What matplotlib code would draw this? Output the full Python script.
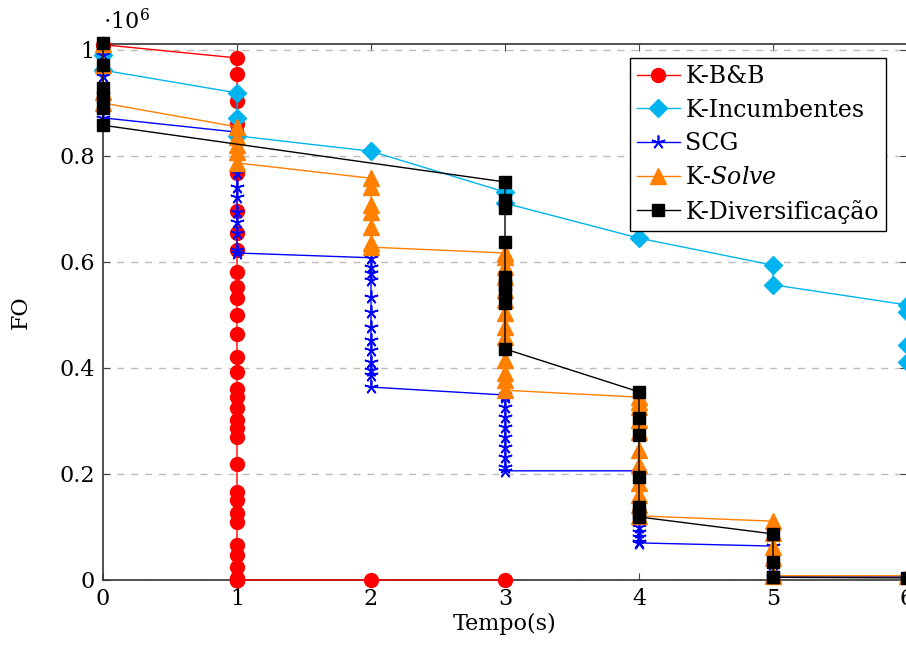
import matplotlib.pyplot as plt

plt.rcParams['font.family'] = ['DejaVu Serif']
plt.rcParams['mathtext.fontset'] = 'dejavuserif'

# values in units of 10^6
bb_t = [0, 1] + [1] * 36 + [2, 3]
bb_y = [1.010, 0.985, 0.955, 0.904, 0.86, 0.768, 0.696, 0.655, 0.623, 0.581, 0.553,
        0.532, 0.500, 0.464, 0.421, 0.392, 0.360, 0.345, 0.325, 0.302, 0.287, 0.270,
        0.219, 0.166, 0.151, 0.126, 0.109, 0.066, 0.047, 0.025, 0.004, 0.0, 0.0,
        0.0, 0.0, 0.0, 0.0, 0.0, 0.0, 0.0]

inc_t = [0, 0, 1, 1, 1, 2, 3, 3, 4, 5, 5, 6, 6, 6, 6]
inc_y = [0.990, 0.962, 0.919, 0.872, 0.838, 0.809, 0.732, 0.711, 0.645, 0.594,
         0.557, 0.519, 0.506, 0.443, 0.411]

scg_t = ([0, 0, 0, 1] + [1] * 8 + [2] * 13 + [3] * 10 + [4] * 6 + [5, 5, 5, 6])
scg_y = ([0.990, 0.950, 0.872, 0.845,
          0.768, 0.742, 0.723, 0.695, 0.675, 0.655, 0.623, 0.617,
          0.608, 0.591, 0.579, 0.566, 0.534, 0.506, 0.477, 0.453, 0.434, 0.411,
          0.396, 0.387, 0.364,
          0.349, 0.345, 0.326, 0.308, 0.289, 0.270, 0.251, 0.232, 0.213, 0.206,
          0.206, 0.100, 0.091, 0.081, 0.072, 0.070,
          0.064, 0.030, 0.006, 0.006])

solve_t = ([0, 0, 0, 0] + [1] * 5 + [2] * 7 + [3] * 13 + [4] * 11 + [5] * 6 + [6])
solve_y = ([1.012, 0.972, 0.921, 0.900,
            0.855, 0.836, 0.821, 0.808, 0.787,
            0.758, 0.742, 0.708, 0.694, 0.666, 0.636, 0.628,
            0.617, 0.609, 0.591, 0.572, 0.547, 0.528, 0.504, 0.477, 0.458, 0.415,
            0.391, 0.377, 0.358,
            0.345, 0.336, 0.326, 0.302, 0.279, 0.245, 0.217, 0.183, 0.160, 0.142,
            0.121,
            0.111, 0.089, 0.062, 0.042, 0.009, 0.008,
            0.008])

div_t = ([0] * 6 + [3] * 9 + [4] * 7 + [5] * 4 + [6])
div_y = ([1.013, 0.972, 0.929, 0.912, 0.891, 0.858,
          0.751, 0.717, 0.702, 0.638, 0.572, 0.557, 0.542, 0.523, 0.436,
          0.355, 0.306, 0.274, 0.194, 0.138, 0.126, 0.119,
          0.087, 0.034, 0.006, 0.005,
          0.004])

fig = plt.figure(figsize=(9.06, 6.48), dpi=100)
ax = fig.add_axes([103 / 906, 68 / 648, 804 / 906, 536 / 648])

ax.plot(bb_t, bb_y, color='#ff0000', marker='o', markersize=10, lw=1,
        label='K-B&B', clip_on=False, zorder=3)
ax.plot(inc_t, inc_y, color='#00b4f0', marker='D', markersize=9, lw=1,
        label='K-Incumbentes', clip_on=False, zorder=3)
# pgfplots-like "star" marker: five thin arms
ax.plot(scg_t, scg_y, color='#0000ff', marker=(5, 2, 0), markersize=10, lw=1,
        markeredgewidth=1.2, label='SCG', clip_on=False, zorder=3)
ax.plot(solve_t, solve_y, color='#ff8000', marker='^', markersize=11, lw=1,
        label=r'K-$\mathit{Solve}$', clip_on=False, zorder=3)
ax.plot(div_t, div_y, color='black', marker='s', markersize=9, lw=1,
        label='K-Diversificação', clip_on=False, zorder=3)

ax.set_xlim(0, 6)
ax.set_ylim(0, 1.0113)
ax.set_xticks([0, 1, 2, 3, 4, 5, 6])
ax.set_yticks([0, 0.2, 0.4, 0.6, 0.8, 1.0])
ax.set_yticklabels(['0', '0.2', '0.4', '0.6', '0.8', '1'])
ax.tick_params(direction='in', top=True, right=True, labelsize=16, length=5,
               width=0.8, color='#444444', pad=6)
for s in ax.spines.values():
    s.set_color('#333333')
    s.set_linewidth(1.2)
ax.grid(axis='y', color='#bbbbbb', linestyle=(0, (5, 5)), lw=1)
ax.set_axisbelow(True)

ax.set_xlabel('Tempo(s)', fontsize=16, labelpad=2)
ax.set_ylabel('FO', fontsize=16, labelpad=20)
fig.text(103 / 906, 1 - 22 / 648, r'$\cdot10^6$', fontsize=16, va='center', ha='left')

leg = ax.legend(loc='upper right', bbox_to_anchor=(783 / 804, 1 - 14 / 536),
                fontsize=17, frameon=True, fancybox=False, framealpha=1,
                edgecolor='black', handlelength=1.8, handletextpad=0.25,
                borderpad=0.3, labelspacing=0.45, borderaxespad=0)
leg.get_frame().set_linewidth(1)

plt.savefig('out.png', dpi=100)
